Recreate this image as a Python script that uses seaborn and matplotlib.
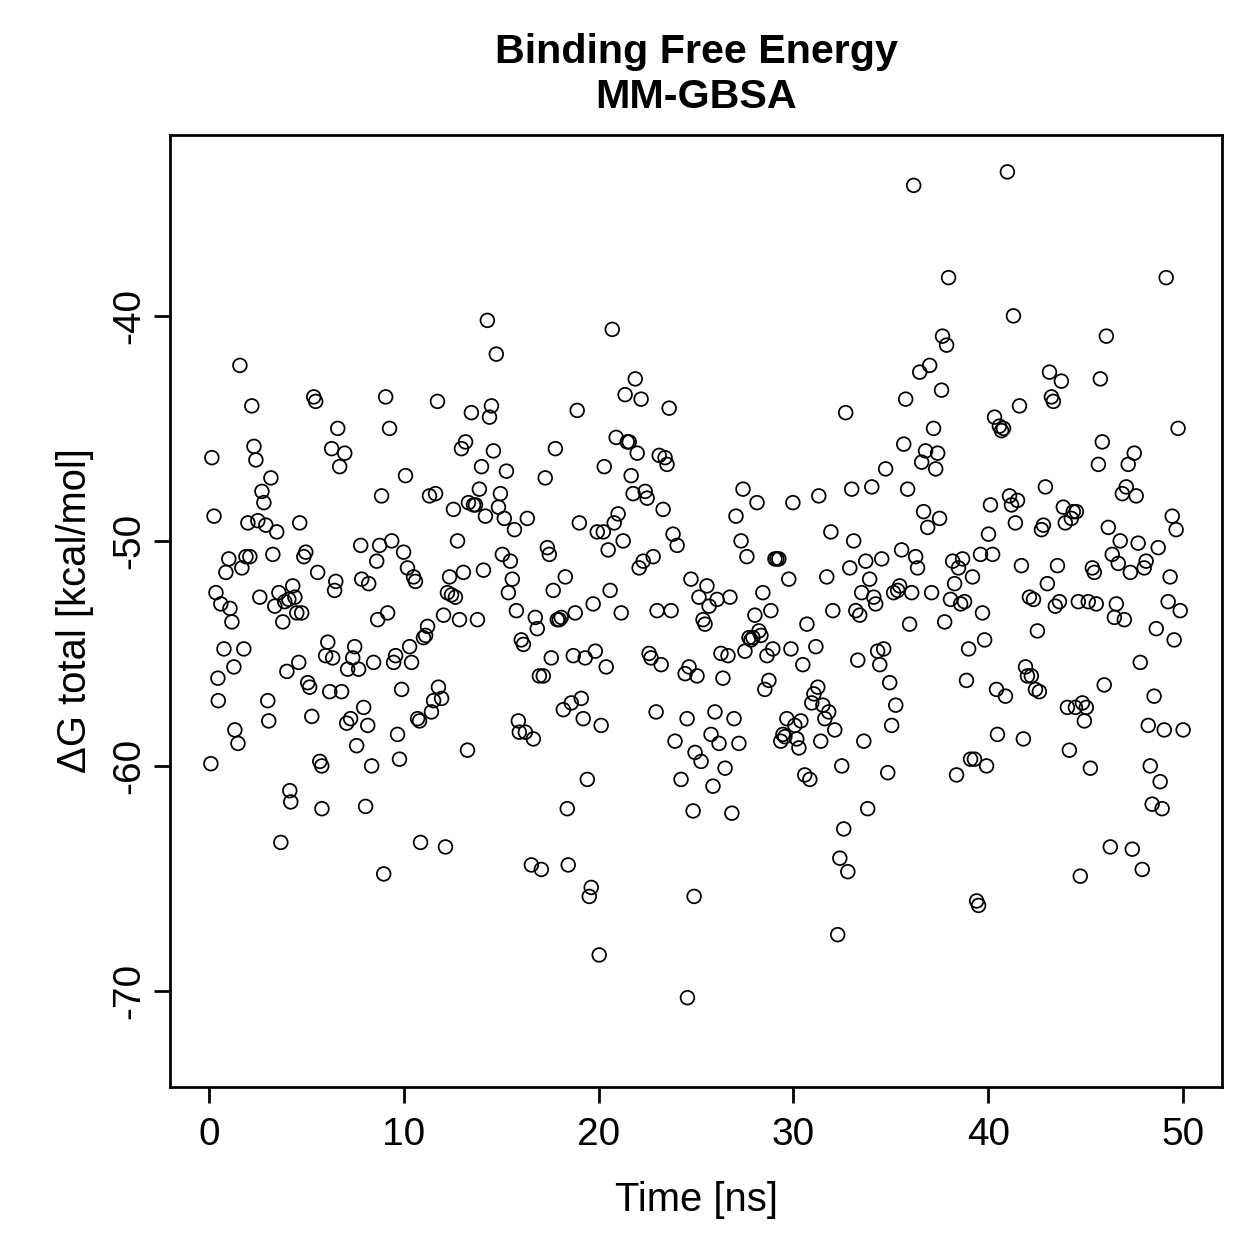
import matplotlib
matplotlib.use("Agg")
import matplotlib.pyplot as plt
import seaborn as sns
import pandas as pd

# values, time [ns] and dG total [kcal/mol]
time_ns = [
    0.10, 0.15, 0.26, 0.36, 0.46, 0.48, 0.61, 0.77, 0.87, 1.02, 1.08, 1.18, 1.28, 1.33, 1.49, 1.59, 1.69, 1.79, 1.90, 2.00,
    2.10, 2.20, 2.31, 2.41, 2.51, 2.61, 2.72, 2.82, 2.92, 3.02, 3.07, 3.18, 3.28, 3.38, 3.48, 3.59, 3.69, 3.79, 3.89, 4.00,
    4.10, 4.15, 4.20, 4.30, 4.41, 4.51, 4.61, 4.66, 4.76,
    4.87, 4.97, 5.07, 5.17, 5.28, 5.38, 5.48, 5.58, 5.69, 5.79, 5.80, 5.99, 6.10, 6.20, 6.30, 6.35, 6.45, 6.51, 6.61, 6.71,
    6.81, 6.97, 7.07, 7.12, 7.27, 7.38, 7.48, 7.58, 7.68, 7.79, 7.84, 7.94, 8.04, 8.15, 8.20, 8.35, 8.45, 8.61, 8.66, 8.76,
    8.86, 8.97, 9.07, 9.17, 9.27, 9.38, 9.48, 9.58, 9.68, 9.78, 9.89,
    9.99, 10.09, 10.19, 10.30, 10.40, 10.50, 10.60, 10.71, 10.81, 10.86, 11.01, 11.12, 11.22, 11.32, 11.42, 11.53, 11.63,
    11.73, 11.78, 11.94, 12.04, 12.14, 12.24, 12.35, 12.45, 12.55, 12.65, 12.76, 12.86, 12.96, 13.06, 13.17, 13.27, 13.32,
    13.47, 13.58, 13.68, 13.78, 13.88, 13.99, 14.09, 14.19, 14.29, 14.40, 14.50, 14.60, 14.75, 14.86, 14.96,
    15.06, 15.16, 15.27, 15.37, 15.47, 15.57, 15.68, 15.78, 15.88, 15.93, 16.03, 16.14, 16.24, 16.34, 16.55, 16.65, 16.75,
    16.85, 16.96, 17.06, 17.16, 17.26, 17.37, 17.47, 17.57, 17.67, 17.78, 17.88, 17.98, 18.08, 18.19, 18.29, 18.39, 18.44,
    18.60, 18.70, 18.80, 18.90, 19.01, 19.11, 19.21, 19.31, 19.42, 19.52, 19.62, 19.72, 19.83, 19.93, 20.03, 20.13,
    20.24, 20.29, 20.39, 20.49, 20.59, 20.70, 20.80, 20.90, 21.00, 21.16, 21.26, 21.36, 21.47, 21.57, 21.67, 21.77, 21.88,
    21.98, 22.08, 22.18, 22.29, 22.39, 22.49, 22.59, 22.69, 22.80, 22.95, 23.00, 23.11, 23.21, 23.31, 23.41, 23.51, 23.62,
    23.72, 23.82, 23.92, 24.03, 24.23, 24.44, 24.54, 24.56, 24.64, 24.74, 24.85, 24.90, 24.95, 25.05, 25.15,
    25.26, 25.36, 25.46, 25.56, 25.67, 25.77, 25.87, 25.97, 26.08, 26.18, 26.28, 26.38, 26.49, 26.64, 26.74, 26.84, 26.95,
    27.05, 27.20, 27.31, 27.41, 27.51, 27.61, 27.72, 27.82, 27.92, 28.02, 28.13, 28.23, 28.33, 28.43, 28.53, 28.64, 28.74,
    28.84, 28.94, 29.05, 29.15, 29.25, 29.35, 29.46, 29.56, 29.66, 29.76, 29.87, 29.97, 30.07, 30.17, 30.28, 30.38,
    30.48, 30.58, 30.69, 30.84, 30.94, 31.05, 31.15, 31.25, 31.30, 31.40, 31.51, 31.61, 31.71, 31.81, 31.92, 32.02, 32.12,
    32.27, 32.38, 32.48, 32.58, 32.68, 32.79, 32.89, 32.99, 33.09, 33.20, 33.30, 33.40, 33.50, 33.61, 33.71, 33.81, 33.91,
    34.02, 34.12, 34.22, 34.32, 34.43, 34.53, 34.63, 34.73, 34.84, 34.94, 35.04, 35.14, 35.25, 35.35, 35.45,
    35.55, 35.66, 35.76, 35.86, 35.96, 36.07, 36.17, 36.27, 36.37, 36.48, 36.58, 36.68, 36.78, 36.89, 36.99, 37.09, 37.19,
    37.30, 37.40, 37.50, 37.60, 37.65, 37.76, 37.86, 37.96, 38.06, 38.17, 38.27, 38.37, 38.47, 38.58, 38.68, 38.78, 38.88,
    38.99, 39.09, 39.19, 39.29, 39.40, 39.50, 39.60, 39.70, 39.81, 39.91, 40.01, 40.11, 40.22, 40.32, 40.42, 40.47,
    40.57, 40.68, 40.78, 40.88, 40.98, 41.09, 41.19, 41.29, 41.39, 41.50, 41.60, 41.70, 41.80, 41.91, 42.01, 42.11, 42.21,
    42.32, 42.42, 42.52, 42.62, 42.73, 42.83, 42.93, 43.03, 43.14, 43.24, 43.34, 43.44, 43.55, 43.65, 43.75, 43.85, 43.95,
    44.06, 44.16, 44.26, 44.36, 44.47, 44.52, 44.62, 44.72, 44.83, 44.93, 45.03, 45.13, 45.24, 45.34, 45.44, 45.54,
    45.65, 45.75, 45.85, 45.95, 46.06, 46.16, 46.26, 46.36, 46.47, 46.57, 46.67, 46.77, 46.88, 46.98, 47.08, 47.18, 47.29,
    47.39, 47.49, 47.59, 47.69, 47.80, 47.90, 48.00, 48.10, 48.21, 48.31, 48.41, 48.51, 48.62, 48.72, 48.82, 48.92, 49.03,
    49.13, 49.23, 49.33, 49.44, 49.54, 49.64, 49.74, 49.85, 50.00,
]

dg_total = [
    -59.9, -46.3, -48.9, -52.3, -56.1, -57.1, -52.8, -54.8, -51.4, -50.8, -53.0, -53.6, -55.6, -58.4, -59.0, -42.2, -51.2,
    -54.8, -50.7, -49.2, -50.7, -44.0, -45.8, -46.4, -49.1, -52.5, -47.8, -48.3, -49.3, -57.1, -58.0, -47.2, -50.6, -52.9,
    -49.6, -52.3, -63.4, -53.6, -52.7, -55.8, -52.6, -61.1, -61.6, -52.0, -52.5, -53.2, -55.4, -49.2, -53.2,
    -50.7, -50.5, -56.3, -56.5, -57.8, -43.6, -43.8, -51.4, -59.8, -60.0, -61.9, -55.1, -54.5, -56.7, -45.9, -55.2, -52.2,
    -51.8, -45.0, -46.7, -56.7, -46.1, -58.1, -55.7, -57.9, -55.2, -54.7, -59.1, -55.7, -50.2, -51.7, -57.4, -61.8, -58.2,
    -51.9, -60.0, -55.4, -50.9, -53.5, -50.2, -48.0, -64.8, -43.6, -53.2, -45.0, -50.0, -55.4, -55.1, -58.6, -59.7, -56.6,
    -50.5, -47.1, -51.2, -54.7, -55.4, -51.6, -51.8, -57.9, -58.0, -63.4, -54.3, -54.2, -53.8, -48.0, -57.6, -57.1, -47.9,
    -43.8, -56.5, -57.0, -53.3, -63.6, -52.3, -51.6, -52.4, -48.6, -52.5, -50.0, -53.5, -45.9, -51.4, -45.6, -59.3, -48.3,
    -44.3, -48.4, -48.4, -53.5, -47.7, -46.7, -51.3, -48.9, -40.2, -44.5, -44.0, -46.0, -41.7, -48.5, -47.9,
    -50.6, -49.0, -46.9, -52.3, -50.9, -51.7, -49.5, -53.1, -58.0, -58.5, -54.4, -54.6, -58.5, -49.0, -64.4, -58.8, -53.4,
    -53.9, -56.0, -64.6, -56.0, -47.2, -50.3, -50.6, -55.2, -52.2, -45.9, -53.5, -53.5, -53.4, -57.5, -51.6, -61.9, -64.4,
    -57.2, -55.1, -53.2, -44.2, -49.2, -57.0, -57.9, -55.2, -60.6, -65.8, -65.4, -52.8, -54.9, -49.6, -68.4, -58.2,
    -49.6, -46.7, -55.6, -50.4, -52.2, -40.6, -49.2, -45.4, -48.8, -53.2, -50.0, -43.5, -45.6, -45.6, -47.1, -47.9, -42.8,
    -46.1, -51.2, -43.7, -50.9, -47.8, -48.1, -55.0, -55.2, -50.7, -57.6, -53.1, -46.2, -55.5, -48.6, -46.3, -46.6, -44.1,
    -53.1, -49.7, -58.9, -50.2, -60.6, -55.9, -57.9, -70.3, -55.6, -51.7, -62.0, -65.8, -59.4, -56.0, -52.5,
    -59.8, -53.5, -53.7, -52.0, -52.9, -58.6, -60.9, -57.6, -52.6, -59.0, -55.0, -56.1, -60.1, -55.1, -52.5, -62.1, -57.9,
    -48.9, -59.0, -50.0, -47.7, -54.9, -50.7, -54.3, -54.4, -54.3, -53.3, -48.3, -54.0, -54.2, -52.3, -56.6, -55.1, -56.2,
    -53.1, -54.8, -50.8, -50.8, -50.8, -58.9, -58.6, -58.7, -57.9, -51.7, -54.8, -48.3, -58.2, -58.8, -59.2, -58.0,
    -55.5, -60.4, -53.7, -60.6, -57.2, -56.8, -54.7, -56.5, -48.0, -58.9, -57.3, -57.9, -51.6, -57.6, -49.6, -53.1, -58.4,
    -67.5, -64.1, -60.0, -62.8, -44.3, -64.7, -51.2, -47.7, -50.0, -53.1, -55.3, -53.3, -52.3, -58.9, -50.9, -61.9, -51.7,
    -47.6, -52.5, -52.8, -54.9, -55.5, -50.8, -54.8, -46.8, -60.3, -56.3, -58.2, -52.3, -57.3, -52.2, -52.0,
    -50.4, -45.7, -43.7, -47.7, -53.7, -52.3, -34.2, -50.7, -51.2, -42.5, -46.5, -48.7, -46.0, -49.4, -42.2, -52.3, -45.0,
    -46.8, -46.1, -49.0, -43.3, -40.9, -53.6, -41.3, -38.3, -52.6, -50.9, -51.9, -60.4, -51.2, -52.8, -50.8, -52.7, -56.2,
    -54.8, -59.7, -51.6, -59.7, -66.0, -66.2, -50.6, -53.2, -54.4, -60.0, -49.7, -48.4, -50.6, -44.5, -56.6, -58.6,
    -44.9, -45.1, -45.0, -56.9, -33.6, -48.0, -48.4, -40.0, -49.2, -48.2, -44.0, -51.1, -58.8, -55.6, -56.0, -52.5, -56.0,
    -52.6, -56.6, -54.0, -56.7, -49.5, -49.3, -47.6, -51.9, -42.5, -43.6, -43.8, -52.9, -51.1, -52.7, -42.9, -48.5, -49.2,
    -57.4, -59.3, -49.0, -48.7, -57.4, -48.7, -52.7, -64.9, -57.2, -58.0, -57.4, -52.7, -60.1, -51.2, -51.4, -52.8,
    -46.6, -42.8, -45.6, -56.4, -40.9, -49.4, -63.6, -50.6, -53.4, -52.8, -51.0, -50.0, -47.9, -53.5, -47.6, -46.6, -51.4,
    -63.7, -46.1, -48.0, -50.1, -55.4, -64.6, -51.2, -50.9, -58.2, -60.0, -61.7, -56.9, -53.9, -50.3, -60.7, -61.9, -58.4,
    -38.3, -52.7, -51.6, -48.9, -54.4, -49.5, -45.0, -53.1, -58.4,
]

x_ticks = [0, 10, 20, 30, 40, 50]
y_ticks = [-70, -60, -50, -40]

df = pd.DataFrame({"time": time_ns, "dg": dg_total})

sns.set_style("ticks")
plt.rcParams["font.family"] = ["Liberation Sans", "DejaVu Sans"]
plt.rcParams["text.color"] = "black"
plt.rcParams["axes.labelcolor"] = "black"
plt.rcParams["xtick.color"] = "black"
plt.rcParams["ytick.color"] = "black"

fig = plt.figure(figsize=(1259 / 180, 1259 / 180), dpi=180)
ax = fig.add_axes([0.135, 0.1366, 0.8357, 0.7562])

sns.scatterplot(data=df, x="time", y="dg", ax=ax, marker="o", s=30,
                facecolor="none", edgecolor="black", linewidth=0.7)

# R-style 4% padding around data range
ax.set_xlim(-2, 52)
ax.set_ylim(-74.27, -31.96)
ax.set_xticks(x_ticks)
ax.set_yticks(y_ticks)
ax.set_yticklabels([str(v) for v in y_ticks], rotation=90, va="center")
ax.tick_params(axis="both", direction="out", length=6.5, width=1.1, labelsize=15.5)
ax.tick_params(axis="x", pad=5.5)
ax.tick_params(axis="y", pad=2.5)

for sp in ax.spines.values():
    sp.set_visible(True)
    sp.set_linewidth(1.1)
    sp.set_color("black")

ax.set_xlabel("Time [ns]", fontsize=16, va="center")
ax.xaxis.set_label_coords(0.5, -0.1187)
ax.set_ylabel("ΔG total [kcal/mol]", fontsize=16, va="center")
ax.yaxis.set_label_coords(-0.0903, 0.5)

fig.text(0.553, 0.9408, "Binding Free Energy\nMM-GBSA", ha="center", va="center",
         fontsize=16.5, fontweight="bold", linespacing=1.26)

fig.savefig("out.png", dpi=180)
